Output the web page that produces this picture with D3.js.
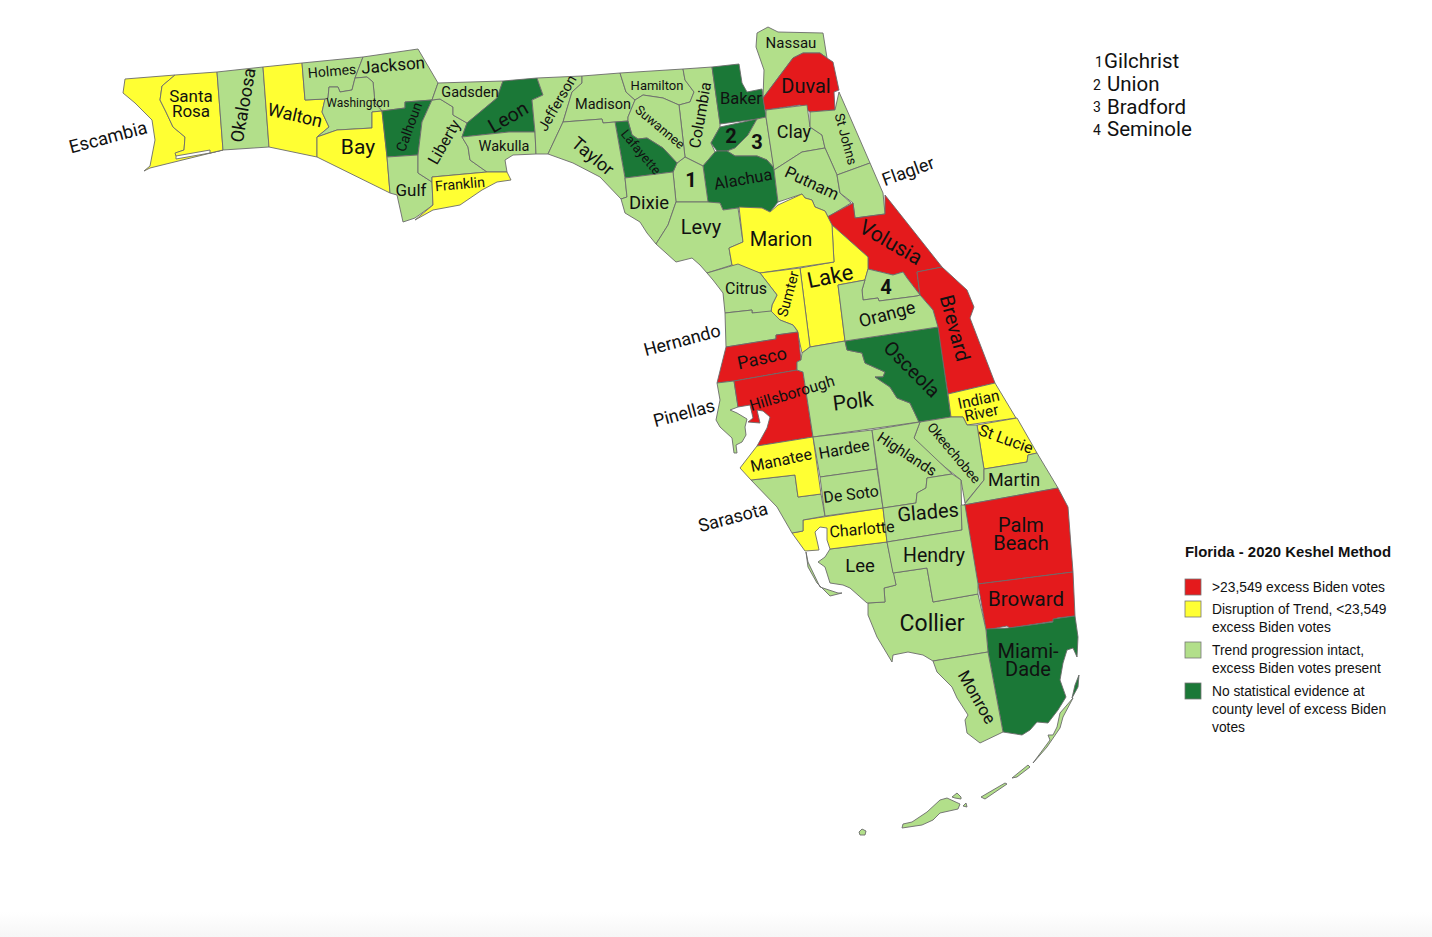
<!DOCTYPE html>
<html>
<head>
<meta charset="utf-8">
<script src="https://cdn.jsdelivr.net/npm/d3@7/dist/d3.min.js"></script>
<style>
html, body { margin: 0; padding: 0; background: #fff; }
svg { display: block; }
</style>
</head>
<body>
<div id="chart-area"></div>
<script>
const WIDTH = 1432;
const HEIGHT = 937;

// county groups, everything not listed is "trend intact"
const redCounties = ["Duval", "Volusia", "Brevard", "Pasco", "Hillsborough", "Palm Beach", "Broward"];
const yellowCounties = ["Escambia", "Santa Rosa", "Walton", "Bay", "Franklin", "Marion", "Sumter", "Lake", "Indian River", "St Lucie", "Manatee", "Charlotte"];
const darkCounties = ["Calhoun", "Leon", "Baker", "Union", "Lafayette", "Alachua", "Osceola", "Miami-Dade"];

const legendTitle = "Florida - 2020 Keshel Method";
const legendBands = ["red", "yellow", "light", "dark"];
const legendLabels = [
    [">23,549 excess Biden votes"],
    ["Disruption of Trend, <23,549", "excess Biden votes"],
    ["Trend progression intact,", "excess Biden votes present"],
    ["No statistical evidence at", "county level of excess Biden", "votes"]
];
const keyNumbers = ["1", "2", "3", "4"];
const keyNames = ["Gilchrist", "Union", "Bradford", "Seminole"];

// county outlines, in map units
const countyOutlines = {
    "Escambia": [[[125,79],[175,75],[162,86],[160,100],[166,112],[173,127],[185,137],[184,150],[176,153],[176,159],[210,153],[223,150],[150,168],[144,171],[150,166],[155,140],[152,120],[135,103],[123,93]]],
    "Santa Rosa": [[[175,75],[217,72],[223,150],[210,153],[210,150],[176,156],[175,153],[184,150],[185,137],[173,127],[166,112],[160,100],[162,86]]],
    "Okaloosa": [[[217,72],[263,67],[269,147],[223,150]]],
    "Walton": [[[263,67],[302,63],[305,100],[325,99],[322,112],[329,127],[317,137],[317,157],[269,147]]],
    "Holmes": [[[302,63],[363,57],[355,78],[352,90],[340,92],[338,87],[329,87],[328,98],[325,99],[305,100]]],
    "Jackson": [[[363,57],[418,49],[438,83],[432,100],[405,102],[405,108],[382,111],[375,103],[373,82],[367,77],[355,78]]],
    "Washington": [[[355,78],[367,77],[373,82],[375,103],[382,111],[372,112],[372,128],[337,130],[317,137],[329,127],[322,112],[325,99],[328,98],[329,87],[338,87],[340,92],[352,90]]],
    "Bay": [[[317,137],[337,130],[372,128],[372,112],[382,111],[387,157],[390,193],[317,157]]],
    "Calhoun": [[[382,111],[405,108],[405,102],[432,100],[422,122],[418,155],[387,157]]],
    "Gulf": [[[387,157],[418,155],[418,173],[432,182],[433,205],[415,218],[403,222],[397,195],[390,193]]],
    "Liberty": [[[432,100],[440,99],[453,107],[453,115],[467,123],[462,137],[468,147],[470,160],[487,172],[432,177],[432,182],[418,173],[418,155],[422,122]]],
    "Gadsden": [[[438,83],[503,81],[497,98],[467,123],[453,115],[453,107],[440,99],[432,100]]],
    "Leon": [[[503,81],[537,78],[543,95],[532,100],[535,132],[509,132],[462,137],[467,123],[497,98]]],
    "Wakulla": [[[462,137],[509,132],[535,132],[536,154],[513,155],[505,160],[507,172],[487,172],[470,160],[468,147]]],
    "Franklin": [[[432,177],[487,172],[507,172],[511,180],[497,182],[482,190],[460,205],[433,210],[415,220],[433,205],[432,182]]],
    "Jefferson": [[[537,78],[582,76],[582,83],[572,92],[563,122],[548,154],[536,154],[535,132],[532,100],[543,95]]],
    "Madison": [[[582,76],[620,73],[626,92],[635,100],[628,117],[628,121],[615,122],[603,123],[602,119],[563,122],[572,92],[582,83]]],
    "Hamilton": [[[620,73],[683,69],[685,80],[694,92],[690,102],[679,105],[663,98],[643,95],[635,100],[626,92]]],
    "Columbia": [[[683,69],[712,67],[720,123],[720,127],[711,143],[715,152],[703,166],[685,157],[679,105],[690,102],[694,92],[685,80]]],
    "Baker": [[[712,67],[739,64],[742,83],[747,92],[762,89],[765,110],[766,117],[757,119],[720,124]]],
    "Union": [[[720,127],[757,119],[748,135],[735,148],[727,151],[717,151],[711,143]]],
    "Bradford": [[[757,119],[766,117],[774,168],[767,160],[757,156],[735,156],[727,151],[735,148],[748,135]]],
    "Alachua": [[[717,151],[727,151],[735,156],[757,156],[767,160],[774,168],[778,202],[770,212],[762,208],[738,208],[723,210],[720,203],[708,203],[703,166],[715,152]]],
    "Gilchrist": [[[685,157],[703,166],[708,202],[676,202],[673,172],[677,163]]],
    "Suwannee": [[[635,100],[643,95],[663,98],[679,105],[685,157],[677,163],[663,148],[647,138],[638,139],[632,135],[628,121],[628,117]]],
    "Lafayette": [[[615,122],[628,121],[632,135],[638,139],[647,138],[663,148],[677,163],[673,172],[625,178]]],
    "Taylor": [[[563,122],[602,119],[603,123],[615,122],[625,178],[627,197],[621,199],[600,177],[573,163],[548,154]]],
    "Dixie": [[[625,178],[673,172],[676,202],[668,225],[656,244],[647,233],[640,222],[625,213],[621,199],[627,197]]],
    "Levy": [[[676,202],[708,202],[720,203],[723,210],[738,208],[743,242],[729,248],[732,265],[707,273],[700,265],[692,258],[676,262],[656,244],[668,225]]],
    "Nassau": [[[757,33],[768,27],[778,32],[823,33],[827,58],[820,53],[803,53],[793,58],[763,98],[764,70],[756,47]]],
    "Duval": [[[763,98],[793,58],[803,53],[820,53],[827,58],[833,62],[839,90],[834,92],[835,110],[810,112],[800,105],[765,110]]],
    "Clay": [[[766,110],[807,105],[810,127],[822,135],[825,148],[802,152],[774,170],[766,117]]],
    "St Johns": [[[810,112],[835,110],[839,92],[850,117],[870,163],[837,175],[825,148],[822,135],[810,127]]],
    "Putnam": [[[774,170],[802,152],[825,148],[837,175],[840,193],[851,203],[828,217],[825,211],[815,207],[812,200],[805,198],[802,194],[778,202]]],
    "Flagler": [[[837,175],[870,163],[883,193],[885,214],[855,218],[853,203],[840,193]]],
    "Volusia": [[[827,217],[853,203],[855,218],[885,214],[885,195],[942,267],[917,272],[920,295],[907,278],[903,272],[893,275],[868,269],[868,257],[832,225]]],
    "Brevard": [[[917,272],[942,267],[967,290],[974,307],[970,318],[995,383],[948,394],[943,363],[937,327],[933,310],[920,295]]],
    "Lake": [[[832,225],[868,257],[868,269],[865,280],[838,285],[845,341],[810,347],[800,268],[834,262]]],
    "Marion": [[[739,207],[762,208],[770,212],[778,205],[802,194],[805,198],[812,200],[815,207],[825,211],[828,217],[832,225],[834,262],[760,273],[732,265],[729,248],[743,242]]],
    "Sumter": [[[760,273],[800,268],[810,347],[802,353],[797,330],[793,325],[780,320],[771,312],[772,305],[777,295]]],
    "Citrus": [[[707,273],[738,264],[760,273],[777,295],[772,305],[771,312],[752,313],[752,310],[725,313],[723,293],[713,280]]],
    "Hernando": [[[725,313],[752,310],[752,313],[771,311],[780,320],[793,325],[798,332],[776,335],[776,339],[726,347]]],
    "Pasco": [[[726,347],[776,339],[776,335],[798,332],[801,360],[797,362],[797,370],[734,381],[717,383]]],
    "Pinellas": [[[717,383],[734,381],[738,407],[730,410],[737,413],[747,419],[745,427],[746,435],[742,442],[736,445],[737,453],[734,453],[732,438],[720,427],[716,420],[720,400]]],
    "Hillsborough": [[[734,381],[797,370],[803,372],[813,437],[757,446],[767,428],[770,417],[763,411],[757,410],[760,423],[748,422],[753,418],[750,405],[738,407]]],
    "Polk": [[[797,362],[801,360],[802,353],[810,347],[845,341],[847,350],[862,353],[865,363],[885,372],[883,377],[875,377],[890,387],[897,398],[910,403],[919,422],[813,437],[803,372],[797,370]]],
    "Osceola": [[[845,341],[938,327],[951,417],[919,422],[910,403],[897,398],[890,387],[875,377],[883,377],[885,372],[865,363],[862,353],[847,350]]],
    "Seminole": [[[868,269],[893,275],[903,272],[907,278],[920,295],[917,296],[879,301],[878,298],[863,300],[862,290]]],
    "Orange": [[[838,285],[865,280],[862,290],[863,300],[878,298],[879,301],[917,296],[920,295],[933,310],[938,327],[845,341]]],
    "Indian River": [[[948,394],[995,383],[1016,418],[967,425],[963,417],[951,417]]],
    "St Lucie": [[[977,425],[1017,418],[1037,453],[1028,455],[1027,462],[984,469],[982,457]]],
    "Okeechobee": [[[920,422],[951,417],[963,417],[967,425],[977,425],[982,457],[984,469],[984,480],[965,503],[961,480],[930,455],[914,438]]],
    "Martin": [[[984,469],[1027,462],[1028,455],[1037,453],[1058,488],[964,505],[984,480]]],
    "Palm Beach": [[[964,505],[1058,488],[1068,507],[1073,572],[978,584]]],
    "Broward": [[[978,584],[1073,572],[1075,616],[1057,618],[1055,621],[1010,628],[1007,626],[986,630]]],
    "Miami-Dade": [
        [[986,629],[1008,628],[1053,622],[1053,619],[1075,616],[1078,637],[1077,657],[1073,648],[1067,650],[1063,663],[1060,680],[1066,697],[1058,710],[1048,723],[1037,722],[1030,730],[1022,735],[1003,732],[988,652]],
        [[1079,675],[1078,687],[1072,698],[1075,685]]
    ],
    "Collier": [[[868,603],[885,602],[884,588],[896,585],[893,573],[927,568],[933,602],[978,594],[986,630],[988,652],[933,661],[923,655],[908,652],[893,655],[892,662],[877,637],[868,615]]],
    "Monroe": [
        [[933,661],[988,652],[1003,732],[980,743],[967,733],[965,720],[968,715],[957,698],[952,687],[937,672]],
        [[902,828],[903,824],[912,822],[927,812],[940,800],[947,798],[960,804],[958,809],[940,813],[933,820],[922,825]],
        [[952,797],[957,793],[961,797],[961,799],[955,798]],
        [[963,806],[966,803],[967,807]],
        [[981,797],[1005,783],[1007,784],[985,799]],
        [[1012,778],[1028,765],[1030,767],[1017,777]],
        [[1033,763],[1050,740],[1048,735],[1053,735],[1057,727],[1060,713],[1073,698],[1063,717],[1060,728],[1047,747]],
        [[859,832],[862,829],[866,831],[865,835],[860,835]]
    ],
    "Lee": [
        [[830,549],[887,542],[896,585],[884,588],[885,602],[867,603],[850,588],[843,585],[830,583],[825,567],[818,562],[825,557]],
        [[806,552],[808,562],[820,587],[838,593],[842,593],[830,596],[817,583],[808,567]]
    ],
    "Charlotte": [[[803,520],[883,508],[887,542],[830,549],[827,540],[827,528],[820,527],[815,532],[818,545],[819,550],[805,551],[792,533],[803,531]]],
    "Sarasota": [[[751,480],[795,475],[798,497],[821,494],[825,516],[803,520],[803,531],[792,533],[777,507]]],
    "Manatee": [[[740,468],[757,446],[813,437],[821,494],[798,497],[795,475],[751,480]]],
    "Hardee": [[[813,437],[872,430],[877,469],[820,477]]],
    "De Soto": [[[820,477],[877,469],[883,508],[825,516]]],
    "Highlands": [[[872,430],[920,422],[914,438],[952,474],[927,478],[926,488],[917,493],[916,503],[883,508]]],
    "Glades": [[[883,508],[916,503],[917,493],[926,488],[927,478],[952,474],[961,480],[962,530],[887,542]]],
    "Hendry": [[[887,542],[962,530],[961,505],[965,505],[978,584],[978,594],[933,602],[927,568],[893,573]]]
};

// label placement: text lines, x, y, size, angle
const countyLabels = [
    [["Escambia"], 108, 137, 18.3, -15], [["Santa", "Rosa"], 191, 104, 17, 0], [["Okaloosa"], 243, 105, 18, -80],
    [["Walton"], 295, 115, 18, 13], [["Holmes"], 332, 71, 14, -5], [["Jackson"], 393, 65, 17, -5],
    [["Washington"], 358, 103, 12, 0], [["Calhoun"], 409, 127, 14, -70], [["Bay"], 358, 147, 21, 0],
    [["Liberty"], 444, 142, 16, -60], [["Gadsden"], 470, 92, 14.5, 0], [["Leon"], 508, 117, 19.5, -30],
    [["Wakulla"], 504, 146, 14.5, 0], [["Gulf"], 411, 190, 17, 0], [["Franklin"], 460, 184, 14.3, -5],
    [["Jefferson"], 557, 103, 14.5, -60], [["Madison"], 603, 104, 14.5, 0], [["Hamilton"], 657, 85, 13, 0],
    [["Suwannee"], 660, 127, 13, 40], [["Lafayette"], 641, 152, 13, 50], [["Columbia"], 700, 115, 15.8, -80],
    [["Taylor"], 593, 156, 18, 40], [["Dixie"], 649, 203, 18.5, 0], [["Levy"], 701, 227, 20, 0],
    [["Baker"], 741, 98, 16.5, 0], [["Nassau"], 791, 43, 15, 0], [["Duval"], 806, 86, 20, 0],
    [["Clay"], 794, 132, 18, 0], [["St Johns"], 846, 139, 13.5, 75], [["Putnam"], 812, 183, 16.5, 25],
    [["Alachua"], 743, 179, 16.3, -10], [["Flagler"], 908, 171, 18, -20], [["Marion"], 781, 239, 20, 0],
    [["Volusia"], 891, 242, 21, 30], [["Lake"], 830, 276, 22, -12], [["Citrus"], 746, 288, 16, 0],
    [["Sumter"], 788, 294, 14.5, -75], [["Orange"], 887, 314, 18, -15], [["Brevard"], 955, 328, 20, 75],
    [["Hernando"], 682, 340, 18, -15], [["Pasco"], 762, 358, 18, -12], [["Osceola"], 912, 369, 19.5, 45],
    [["Hillsborough"], 792, 393, 15.6, -17], [["Polk"], 853, 401, 21, -7], [["Pinellas"], 684, 413, 18, -15],
    [["Indian", "River"], 980, 406, 15.5, -12], [["St Lucie"], 1006, 439, 16, 20], [["Hardee"], 844, 449, 16, -10],
    [["Highlands"], 907, 454, 15, 33], [["Okeechobee"], 954, 453, 13.5, 50], [["Manatee"], 781, 460, 16, -12],
    [["Martin"], 1014, 480, 18, 0], [["De Soto"], 851, 494, 16, -7], [["Sarasota"], 733, 517, 18, -15],
    [["Glades"], 928, 512, 20, -5], [["Charlotte"], 862, 529, 16, -5], [["Palm", "Beach"], 1021, 534, 20, 0],
    [["Hendry"], 934, 555, 19.5, 0], [["Lee"], 860, 566, 18.5, 0], [["Broward"], 1026, 599, 20.5, 0],
    [["Collier"], 932, 623, 23, 0], [["Miami-", "Dade"], 1028, 660, 20, 0], [["Monroe"], 977, 697, 17, 60]
];
// numbered counties on the map
const numberSpots = [[691, 180], [731, 136], [757, 142], [886, 287]];

const bandColor = d3.scaleOrdinal()
    .domain(["red", "yellow", "light", "dark"])
    .range(["#e41a1c", "#ffff33", "#b2df8a", "#1b7837"]);

const bandOf = (name) => {
    if (redCounties.includes(name)) return "red";
    if (yellowCounties.includes(name)) return "yellow";
    if (darkCounties.includes(name)) return "dark";
    return "light";
};

const svg = d3.select("#chart-area").append("svg")
    .attr("width", WIDTH)
    .attr("height", HEIGHT);

// faint grey fade along the bottom edge
const fade = svg.append("defs").append("linearGradient")
    .attr("id", "fade")
    .attr("x1", 0).attr("x2", 0)
    .attr("y1", 0).attr("y2", 1);
fade.append("stop").attr("offset", "0%").attr("stop-color", "#ffffff");
fade.append("stop").attr("offset", "100%").attr("stop-color", "#f6f6f6");

svg.append("rect")
    .attr("y", HEIGHT - 25)
    .attr("width", WIDTH)
    .attr("height", 25)
    .attr("fill", "url(#fade)");

// geojson rings need the first point repeated at the end
const features = Object.keys(countyOutlines).map((name) => ({
    type: "Feature",
    properties: { name: name },
    geometry: {
        type: "MultiPolygon",
        coordinates: countyOutlines[name].map((ring) => [ring.concat([ring[0]])])
    }
}));

const path = d3.geoPath(d3.geoIdentity());

svg.append("g").selectAll("path")
    .data(features)
    .enter().append("path")
    .attr("d", path)
    .attr("fill", (d) => bandColor(bandOf(d.properties.name)))
    .attr("stroke", "#6b6b6b")
    .attr("stroke-width", 0.9)
    .attr("stroke-linejoin", "round");

// county labels
const labels = svg.append("g")
    .attr("font-family", "Roboto, sans-serif")
    .attr("fill", "#111")
    .attr("text-anchor", "middle");

countyLabels.forEach(([lines, x, y, size, angle]) => {
    const label = labels.append("text")
        .attr("transform", `translate(${x}, ${y}) rotate(${angle})`)
        .attr("font-size", size);
    lines.forEach((line, i) => {
        label.append("tspan")
            .attr("x", 0)
            .attr("y", (i - (lines.length - 1) / 2) * size * 0.88)
            .attr("dy", "0.35em")
            .text(line);
    });
});

numberSpots.forEach(([x, y], i) => {
    labels.append("text")
        .attr("x", x)
        .attr("y", y)
        .attr("dy", "0.35em")
        .attr("font-size", 20)
        .attr("font-weight", 700)
        .text(keyNumbers[i]);
});

// numbered key, top right
const key = svg.append("g")
    .attr("font-family", "Roboto, sans-serif")
    .attr("fill", "#111");

const keyRow = d3.scalePoint().domain(keyNumbers).range([61, 129]);

keyNames.forEach((name, i) => {
    const row = key.append("g")
        .attr("transform", `translate(0, ${keyRow(keyNumbers[i])})`);
    row.append("text")
        .attr("x", i === 0 ? 1095 : 1093)
        .attr("dy", "0.42em")
        .attr("font-size", 14)
        .text(keyNumbers[i]);
    row.append("text")
        .attr("x", i === 0 ? 1104 : 1107)
        .attr("dy", "0.35em")
        .attr("font-size", 20.5)
        .text(name);
});

// legend
const legend = svg.append("g")
    .attr("font-family", "'Liberation Sans', Arial, sans-serif")
    .attr("fill", "#111");

legend.append("text")
    .attr("x", 1185)
    .attr("y", 557)
    .attr("font-size", 14.9)
    .attr("font-weight", 700)
    .text(legendTitle);

const legendTops = [587, 609, 650, 691];

legendBands.forEach((band, i) => {
    legend.append("rect")
        .attr("x", 1185)
        .attr("y", legendTops[i] - 8)
        .attr("width", 16)
        .attr("height", 16)
        .attr("fill", bandColor(band))
        .attr("stroke", "#777")
        .attr("stroke-width", 0.8);

    legendLabels[i].forEach((line, j) => {
        legend.append("text")
            .attr("x", 1212)
            .attr("y", legendTops[i] + j * 18.3)
            .attr("dy", "0.35em")
            .attr("font-size", 13.8)
            .text(line);
    });
});
</script>
</body>
</html>
